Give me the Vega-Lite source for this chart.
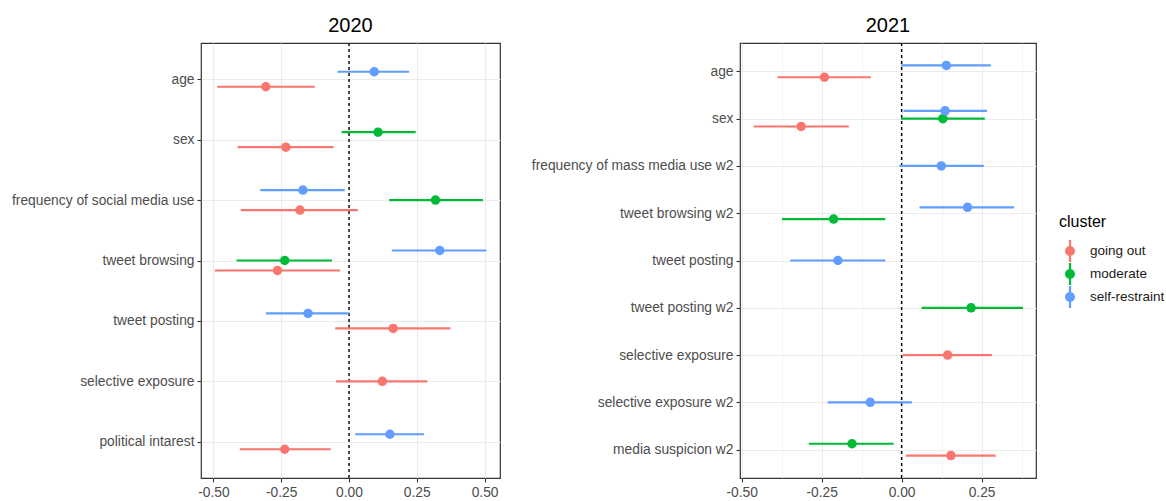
{
  "$schema": "https://vega.github.io/schema/vega-lite/v6.json",
  "padding": {"left": 0, "top": 15, "right": 0, "bottom": 0},
  "background": "white",
  "datasets": {
    "d2020": [
      {"variable": "age", "cluster": "going out", "est": -0.307, "lo": -0.486, "hi": -0.126},
      {"variable": "age", "cluster": "self-restraint", "est": 0.093, "lo": -0.042, "hi": 0.222},
      {"variable": "sex", "cluster": "going out", "est": -0.233, "lo": -0.411, "hi": -0.057},
      {"variable": "sex", "cluster": "moderate", "est": 0.107, "lo": -0.027, "hi": 0.246},
      {"variable": "frequency of social media use", "cluster": "going out", "est": -0.181, "lo": -0.399, "hi": 0.033},
      {"variable": "frequency of social media use", "cluster": "moderate", "est": 0.319, "lo": 0.148, "hi": 0.494},
      {"variable": "frequency of social media use", "cluster": "self-restraint", "est": -0.170, "lo": -0.327, "hi": -0.016},
      {"variable": "tweet browsing", "cluster": "going out", "est": -0.264, "lo": -0.495, "hi": -0.033},
      {"variable": "tweet browsing", "cluster": "moderate", "est": -0.237, "lo": -0.415, "hi": -0.063},
      {"variable": "tweet browsing", "cluster": "self-restraint", "est": 0.335, "lo": 0.158, "hi": 0.507},
      {"variable": "tweet posting", "cluster": "going out", "est": 0.163, "lo": -0.051, "hi": 0.374},
      {"variable": "tweet posting", "cluster": "self-restraint", "est": -0.151, "lo": -0.306, "hi": 0.001},
      {"variable": "selective exposure", "cluster": "going out", "est": 0.123, "lo": -0.048, "hi": 0.289},
      {"variable": "political intarest", "cluster": "going out", "est": -0.237, "lo": -0.403, "hi": -0.067},
      {"variable": "political intarest", "cluster": "self-restraint", "est": 0.151, "lo": 0.023, "hi": 0.277}
    ],
    "d2021": [
      {"variable": "age", "cluster": "going out", "est": -0.241, "lo": -0.388, "hi": -0.096},
      {"variable": "age", "cluster": "self-restraint", "est": 0.140, "lo": -0.001, "hi": 0.279},
      {"variable": "sex", "cluster": "going out", "est": -0.314, "lo": -0.4625, "hi": -0.165},
      {"variable": "sex", "cluster": "moderate", "est": 0.129, "lo": -0.002, "hi": 0.260},
      {"variable": "sex", "cluster": "self-restraint", "est": 0.136, "lo": 0.006, "hi": 0.267},
      {"variable": "frequency of mass media use w2", "cluster": "self-restraint", "est": 0.124, "lo": -0.007, "hi": 0.257},
      {"variable": "tweet browsing w2", "cluster": "moderate", "est": -0.2125, "lo": -0.374, "hi": -0.051},
      {"variable": "tweet browsing w2", "cluster": "self-restraint", "est": 0.206, "lo": 0.056, "hi": 0.352},
      {"variable": "tweet posting", "cluster": "self-restraint", "est": -0.199, "lo": -0.348, "hi": -0.051},
      {"variable": "tweet posting w2", "cluster": "moderate", "est": 0.217, "lo": 0.0625, "hi": 0.379},
      {"variable": "selective exposure", "cluster": "going out", "est": 0.144, "lo": 0.004, "hi": 0.282},
      {"variable": "selective exposure w2", "cluster": "self-restraint", "est": -0.098, "lo": -0.231, "hi": 0.032},
      {"variable": "media suspicion w2", "cluster": "going out", "est": 0.154, "lo": 0.013, "hi": 0.294},
      {"variable": "media suspicion w2", "cluster": "moderate", "est": -0.155, "lo": -0.29, "hi": -0.025}
    ]
  },
  "config": {
    "font": "Liberation Sans",
    "view": {"stroke": "#333333", "strokeWidth": 1.2},
    "axis": {
      "domain": false,
      "title": null,
      "labelColor": "#4D4D4D",
      "labelFontSize": 13.8,
      "labelFont": "Liberation Sans",
      "tickColor": "#333333",
      "tickSize": 4,
      "tickWidth": 1.1,
      "labelPadding": 3,
      "gridColor": "#EBEBEB",
      "gridWidth": 1.1
    },
    "title": {
      "font": "Liberation Sans",
      "fontSize": 20,
      "fontWeight": "normal",
      "color": "#000000",
      "anchor": "middle",
      "frame": "group",
      "offset": 6
    }
  },
  "spacing": 0,
  "hconcat": [
    {
      "width": 299,
      "height": 435,
      "title": {"text": "2020"},
      "layer": [
        {
          "data": {"values": [{}]},
          "mark": {"type": "rule", "color": "#000000", "strokeDash": [3, 3], "strokeWidth": 1.4},
          "encoding": {"x": {"datum": 0, "type": "quantitative"}}
        },
        {
          "data": {"name": "d2020"},
          "transform": [
            {"window": [{"op": "rank", "as": "rk"}], "groupby": ["variable"], "sort": [{"field": "cluster"}]},
            {"joinaggregate": [{"op": "count", "as": "n"}], "groupby": ["variable"]},
            {"calculate": "((datum.n + 1) / 2 - datum.rk) / datum.n", "as": "dodge"}
          ],
          "encoding": {
            "y": {
              "field": "variable", "type": "nominal",
              "scale": {"type": "point", "padding": 0.6, "domain": ["age", "sex", "frequency of social media use", "tweet browsing", "tweet posting", "selective exposure", "political intarest"]},
              "axis": {"grid": true, "minExtent": 200, "maxExtent": 200, "labelLimit": 400}
            },
            "yOffset": {"field": "dodge", "type": "quantitative", "scale": {"domain": [-0.5, 0.5], "range": [-15, 15]}},
            "color": {
              "field": "cluster", "type": "nominal",
              "scale": {"domain": ["going out", "moderate", "self-restraint"], "range": ["#F8766D", "#00BA38", "#619CFF"]}
            }
          },
          "layer": [
            {
              "mark": {"type": "rule", "strokeWidth": 2.2},
              "encoding": {
                "x": {
                  "field": "lo", "type": "quantitative",
                  "scale": {"domain": [-0.546, 0.557], "nice": false, "zero": false},
                  "axis": {
                    "values": [-0.5, -0.375, -0.25, -0.125, 0, 0.125, 0.25, 0.375, 0.5],
                    "format": ".2f",
                    "grid": true,
                    "labelExpr": "datum.value % 0.25 === 0 ? replace(datum.label, '\u2212', '-') : ''",
                    "tickOpacity": {"condition": {"test": "datum.value % 0.25 !== 0", "value": 0}, "value": 1},
                    "gridWidth": {"condition": {"test": "datum.value % 0.25 !== 0", "value": 0.6}, "value": 1.1}
                  }
                },
                "x2": {"field": "hi"}
              }
            },
            {
              "mark": {"type": "point", "filled": true, "size": 90, "opacity": 1},
              "encoding": {
                "x": {"field": "est", "type": "quantitative"},
                "color": {
                  "field": "cluster", "type": "nominal",
                  "legend": {
                    "title": "cluster",
                    "orient": "none",
                    "legendX": 858,
                    "legendY": 171,
                    "symbolType": "M -0.1,-1 H 0.1 V 1 H -0.1 Z M 0,-0.45 A 0.45 0.45 0 1 1 0 0.45 A 0.45 0.45 0 1 1 0 -0.45 Z",
                    "symbolSize": 484,
                    "symbolStrokeWidth": 0,
                    "symbolOpacity": 1,
                    "titleFontSize": 16,
                    "titleFontWeight": "normal",
                    "titleColor": "#000000",
                    "titleFont": "Liberation Sans",
                    "titlePadding": 10,
                    "labelFontSize": 13.5,
                    "labelColor": "#1A1A1A",
                    "labelFont": "Liberation Sans",
                    "rowPadding": 1,
                    "labelOffset": 9
                  }
                }
              }
            }
          ]
        }
      ]
    },
    {
      "width": 296,
      "height": 435,
      "title": {"text": "2021"},
      "layer": [
        {
          "data": {"values": [{}]},
          "mark": {"type": "rule", "color": "#000000", "strokeDash": [3, 3], "strokeWidth": 1.4},
          "encoding": {"x": {"datum": 0, "type": "quantitative"}}
        },
        {
          "data": {"name": "d2021"},
          "transform": [
            {"window": [{"op": "rank", "as": "rk"}], "groupby": ["variable"], "sort": [{"field": "cluster"}]},
            {"joinaggregate": [{"op": "count", "as": "n"}], "groupby": ["variable"]},
            {"calculate": "((datum.n + 1) / 2 - datum.rk) / datum.n", "as": "dodge"}
          ],
          "encoding": {
            "y": {
              "field": "variable", "type": "nominal",
              "scale": {"type": "point", "padding": 0.6, "domain": ["age", "sex", "frequency of mass media use w2", "tweet browsing w2", "tweet posting", "tweet posting w2", "selective exposure", "selective exposure w2", "media suspicion w2"]},
              "axis": {"grid": true, "minExtent": 238, "maxExtent": 238, "labelLimit": 400}
            },
            "yOffset": {"field": "dodge", "type": "quantitative", "scale": {"domain": [-0.5, 0.5], "range": [-11.8, 11.8]}},
            "color": {
              "field": "cluster", "type": "nominal",
              "scale": {"domain": ["going out", "moderate", "self-restraint"], "range": ["#F8766D", "#00BA38", "#619CFF"]}
            }
          },
          "layer": [
            {
              "mark": {"type": "rule", "strokeWidth": 2.2},
              "encoding": {
                "x": {
                  "field": "lo", "type": "quantitative",
                  "scale": {"domain": [-0.505, 0.42], "nice": false, "zero": false},
                  "axis": {
                    "values": [-0.5, -0.375, -0.25, -0.125, 0, 0.125, 0.25, 0.375],
                    "format": ".2f",
                    "grid": true,
                    "labelExpr": "datum.value % 0.25 === 0 ? replace(datum.label, '\u2212', '-') : ''",
                    "tickOpacity": {"condition": {"test": "datum.value % 0.25 !== 0", "value": 0}, "value": 1},
                    "gridWidth": {"condition": {"test": "datum.value % 0.25 !== 0", "value": 0.6}, "value": 1.1}
                  }
                },
                "x2": {"field": "hi"}
              }
            },
            {
              "mark": {"type": "point", "filled": true, "size": 90, "opacity": 1},
              "encoding": {
                "x": {"field": "est", "type": "quantitative"}
              }
            }
          ]
        }
      ]
    }
  ],
  "resolve": {"scale": {"x": "independent", "y": "independent", "yOffset": "independent"}}
}
